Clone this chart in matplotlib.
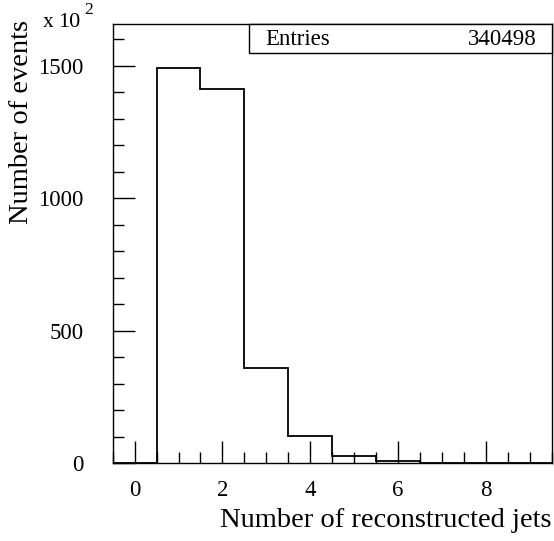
import matplotlib
matplotlib.use("Agg")
import matplotlib.pyplot as plt
from matplotlib.patches import Rectangle
from matplotlib.ticker import MultipleLocator
import numpy as np

# Data (counts in units of 10^2)
bin_centers = [0, 1, 2, 3, 4, 5, 6, 7, 8, 9]
counts = [0, 1492, 1412, 361, 103, 28.7, 9.8, 2.5, 1.0, 0.5]
entries = "340498"
xlabel = "Number of reconstructed jets"
ylabel = "Number of events"

plt.rcParams['font.family'] = ['Liberation Serif', 'DejaVu Serif']
W, H = 554, 541
fig = plt.figure(figsize=(W / 100, H / 100), dpi=100)
ax = fig.add_axes([0.2034, 0.1436, 0.7925, 0.812])

edges = np.array(bin_centers + [bin_centers[-1] + 1], dtype=float) - 0.5
ax.stairs(counts, edges, color='black', linewidth=1.3, baseline=0)

ax.set_xlim(-0.5, 9.5)
ax.set_ylim(0, 1658)

for s in ['left', 'bottom', 'top', 'right']:
    ax.spines[s].set_linewidth(1.0)

ax.xaxis.set_major_locator(MultipleLocator(2))
ax.xaxis.set_minor_locator(MultipleLocator(0.5))
ax.yaxis.set_major_locator(MultipleLocator(500))
ax.yaxis.set_minor_locator(MultipleLocator(100))
ax.tick_params(which='both', direction='in', top=False, right=False, width=1.0)
ax.tick_params(which='major', length=15.8, labelsize=16.5)
ax.tick_params(axis='x', which='major', pad=12)
ax.tick_params(axis='y', which='major', pad=21)
ax.tick_params(which='minor', length=7.9)

fig.text(552 / W, 1 - 527 / H, xlabel, fontsize=20.5, ha='right', va='baseline')
fig.text(34 / W, 1 - 20 / H, ylabel, fontsize=20.5, rotation=90,
         ha='right', va='top')

fig.text(43 / W, 1 - 27 / H, "x", fontsize=15.5, ha='left', va='baseline')
fig.text(58 / W, 1 - 27 / H, "10", fontsize=16, ha='left', va='baseline')
fig.text(84 / W, 1 - 14 / H, "2", fontsize=12.5, ha='left', va='baseline')

# Stats box
ax.add_patch(Rectangle((0.311, 0.933), 0.689, 0.067, transform=ax.transAxes,
                       facecolor='white', edgecolor='black', linewidth=1.0,
                       clip_on=False, zorder=5))
ax.text(0.347, 0.964, "Entries", transform=ax.transAxes, fontsize=16.5,
        ha='left', va='center', zorder=6)
ax.text(0.9665, 0.964, entries, transform=ax.transAxes, fontsize=16.5,
        ha='right', va='center', zorder=6)

fig.savefig("out.png", dpi=100)
